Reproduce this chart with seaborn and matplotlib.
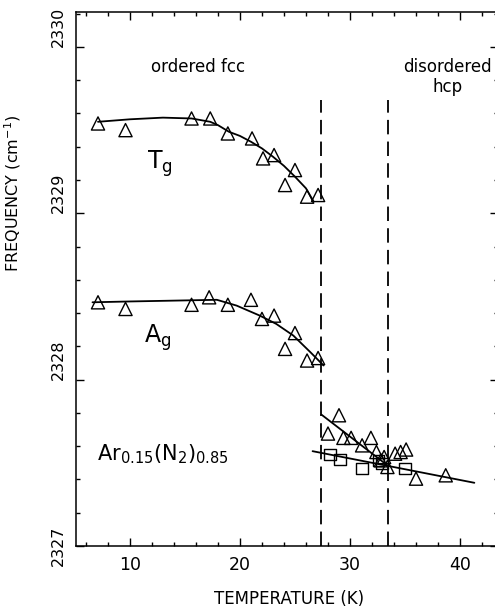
import numpy as np
import pandas as pd
import matplotlib
matplotlib.use('Agg')
import matplotlib.pyplot as plt
import seaborn as sns
from matplotlib.ticker import MultipleLocator

sns.set_style('ticks', {'axes.edgecolor': 'black', 'text.color': 'black',
                        'axes.labelcolor': 'black', 'xtick.color': 'black',
                        'ytick.color': 'black'})
plt.rcParams['font.family'] = ['DejaVu Sans']
plt.rcParams['mathtext.fontset'] = 'dejavusans'

# T_g mode (ordered fcc), triangles
tg_T = [7.1, 9.6, 15.6, 17.3, 18.9, 21.1, 22.1, 23.1, 24.1, 25.0, 26.1, 27.1]
tg_F = [2329.54, 2329.50, 2329.57, 2329.57, 2329.48, 2329.45, 2329.33, 2329.35,
        2329.17, 2329.26, 2329.10, 2329.11]
tg_fit_T = [7.1, 10, 13, 15.6, 17.3, 18.0, 19.0, 20.0, 21.0, 22.0, 23.0, 24.0, 25.0, 26.0, 26.7]
tg_fit_F = [2329.55, 2329.565, 2329.575, 2329.57, 2329.55, 2329.53, 2329.49, 2329.465,
            2329.43, 2329.39, 2329.34, 2329.285, 2329.22, 2329.15, 2329.07]

# A_g mode (ordered fcc), triangles
ag_T = [7.1, 9.6, 15.6, 17.2, 18.9, 21.0, 22.0, 23.1, 24.1, 25.0, 26.1, 27.1]
ag_F = [2328.465, 2328.425, 2328.45, 2328.495, 2328.45, 2328.48, 2328.365, 2328.385,
        2328.185, 2328.28, 2328.115, 2328.13]
ag_fit_T = [6.6, 10, 14, 17.9, 19.7, 21.8, 23.3, 24.85, 26.4, 27.6]
ag_fit_F = [2328.465, 2328.47, 2328.475, 2328.48, 2328.445, 2328.385, 2328.335,
            2328.265, 2328.165, 2328.085]

# disordered hcp region
hcp_tri_T = [28.0, 29.0, 29.4, 30.1, 31.1, 31.9, 32.4, 32.8, 33.1, 33.4, 34.1, 34.6, 35.1, 36.0, 38.7]
hcp_tri_F = [2327.676, 2327.786, 2327.65, 2327.65, 2327.605, 2327.65, 2327.565, 2327.515,
             2327.535, 2327.475, 2327.555, 2327.565, 2327.58, 2327.405, 2327.425]
hcp_sq_T = [28.2, 29.1, 31.1, 32.6, 32.9, 35.0]
hcp_sq_F = [2327.55, 2327.52, 2327.465, 2327.515, 2327.495, 2327.465]
upper_fit_T = [27.4, 33.4]
upper_fit_F = [2327.79, 2327.485]
lower_fit_T = [26.6, 41.3]
lower_fit_F = [2327.57, 2327.38]

transition_T = [27.4, 33.45]
dash_top = 2329.68

fig = plt.figure(figsize=(4.95, 6.1), dpi=100)
ax = fig.add_axes([76 / 495, 1 - 546 / 610, 422 / 495, 534 / 610])

tri = dict(marker='^', s=90, facecolor='none', edgecolor='black', linewidth=1.0, zorder=3)
sns.scatterplot(x=tg_T, y=tg_F, ax=ax, **tri)
sns.scatterplot(x=ag_T, y=ag_F, ax=ax, **tri)
sns.scatterplot(x=hcp_tri_T, y=hcp_tri_F, ax=ax, **tri)
sns.scatterplot(x=hcp_sq_T, y=hcp_sq_F, ax=ax, marker='s', s=70, facecolor='none',
                edgecolor='black', linewidth=1.0, zorder=3)

line = dict(color='black', linewidth=1.3, sort=False, estimator=None)
sns.lineplot(x=tg_fit_T, y=tg_fit_F, ax=ax, **line)
sns.lineplot(x=ag_fit_T, y=ag_fit_F, ax=ax, **line)
sns.lineplot(x=upper_fit_T, y=upper_fit_F, ax=ax, **line)
sns.lineplot(x=lower_fit_T, y=lower_fit_F, ax=ax, **line)

ax.vlines(transition_T, 2327, dash_top, colors='black', linewidth=1.3,
          linestyles=(0, (8, 4)))

ax.set_xlim(5.1, 43.45)
ax.set_ylim(2327, 2330.21)
ax.xaxis.set_major_locator(MultipleLocator(10))
ax.xaxis.set_minor_locator(MultipleLocator(2))
ax.yaxis.set_major_locator(MultipleLocator(1))
ax.yaxis.set_minor_locator(MultipleLocator(0.2))
ax.tick_params(which='both', direction='in', top=True, right=True, width=1.0)
ax.tick_params(which='major', length=6, pad=7)
ax.tick_params(which='minor', length=3)
ax.tick_params(axis='x', labelsize=12.5)
ax.tick_params(axis='y', labelsize=11.5)
ax.set_yticks([2327, 2328, 2329, 2330])
ax.set_yticklabels(['2327', '2328', '2329', '2330'], rotation=90)
for i, lab in enumerate(ax.get_yticklabels()):
    lab.set_va('center' if i == 0 else 'bottom')
for sp in ax.spines.values():
    sp.set_linewidth(1.1)

ax.set_xlabel('TEMPERATURE (K)', size=12)
ax.set_ylabel('FREQUENCY (cm$^{\\mathregular{-1}}$)', size=11.5)
ax.xaxis.set_label_coords(0.505, -0.083)
ax.yaxis.set_label_coords(-0.125, 0.66)

ax.text(16.2, 2329.88, 'ordered fcc', ha='center', va='center', size=12)
ax.text(38.9, 2329.82, 'disordered\nhcp', ha='center', va='center', size=12,
        linespacing=1.1)
ax.text(12.7, 2329.30, 'T$_\\mathregular{g}$', ha='center', va='center', size=17)
ax.text(12.5, 2328.25, 'A$_\\mathregular{g}$', ha='center', va='center', size=17)
ax.text(7.0, 2327.515, 'Ar$_{\\mathregular{0.15}}$(N$_{\\mathregular{2}}$)$_{\\mathregular{0.85}}$',
        ha='left', va='baseline', size=15)

plt.savefig('out.png', dpi=100)
